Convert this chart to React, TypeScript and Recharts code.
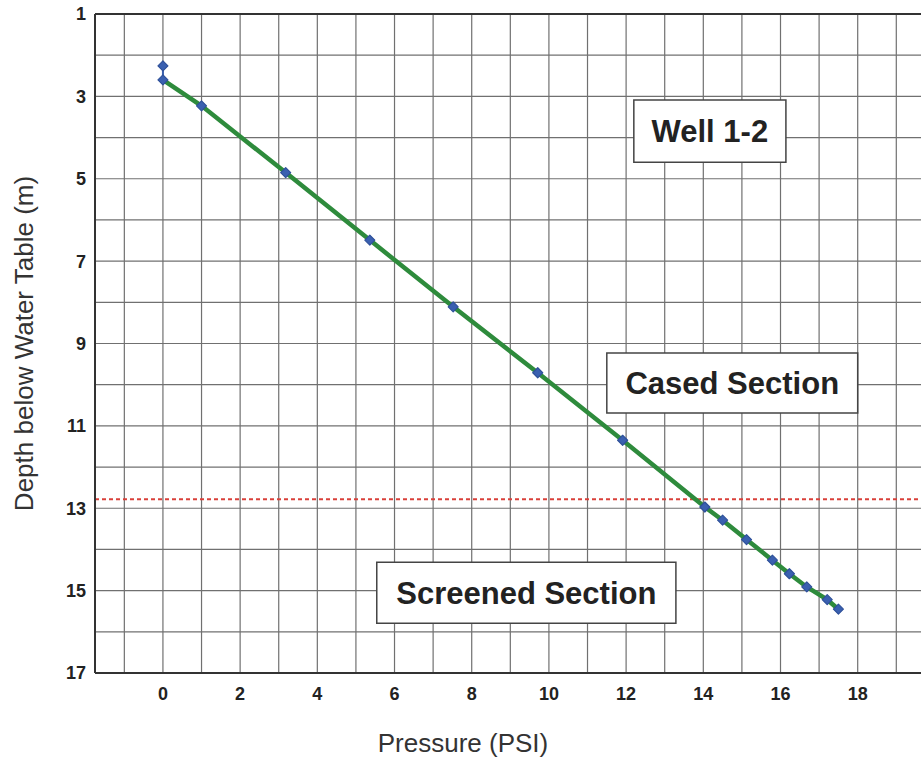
import React from 'react';
import {
  ScatterChart,
  Scatter,
  XAxis,
  YAxis,
  CartesianGrid,
  ReferenceLine,
  ReferenceArea,
} from 'recharts';

// Measured pressure (PSI) vs depth below water table (m), Well 1-2
const pressure = [0, 0, 1.0, 3.18, 5.36, 7.52, 9.71, 11.91, 14.04, 14.5, 15.12, 15.79, 16.23, 16.68, 17.21, 17.5];
const depth = [2.26, 2.6, 3.23, 4.85, 6.49, 8.11, 9.71, 11.35, 12.97, 13.29, 13.76, 14.26, 14.59, 14.91, 15.22, 15.45];

// Boundary between cased and screened sections (m)
const sectionBoundaryDepth = 12.78;

// Axis ticks and grid values
const xTicks = [0, 2, 4, 6, 8, 10, 12, 14, 16, 18];
const yTicks = [1, 3, 5, 7, 9, 11, 13, 15, 17];
const gridX = [-1, 0, 1, 2, 3, 4, 5, 6, 7, 8, 9, 10, 11, 12, 13, 14, 15, 16, 17, 18, 19];
const gridY = [1, 2, 3, 4, 5, 6, 7, 8, 9, 10, 11, 12, 13, 14, 15, 16, 17];

// Annotation labels
const annotationLabels = ['Well 1-2', 'Cased Section', 'Screened Section'];

const measured = pressure.map((p, i) => ({ p, d: depth[i] }));
const firstReadings = measured.slice(0, 2);
const profile = measured.slice(1);

// annotation box extents in data units (layout)
const boxes = [
  { x1: 12.2, x2: 16.14, y1: 3.09, y2: 4.6 },
  { x1: 11.5, x2: 18.0, y1: 9.23, y2: 10.69 },
  { x1: 5.54, x2: 13.29, y1: 14.31, y2: 15.79 },
];

const BLUE = '#3a60b0';
const GREEN = '#2e8b3c';
const FONT = "'Liberation Sans', Arial, sans-serif";
const TICK_FONT = "'Liberation Sans Narrow', 'Liberation Sans', Arial, sans-serif";

const Diamond = (props: any) => {
  const { cx, cy } = props;
  if (cx == null || cy == null) return <g />;
  const r = 5;
  return (
    <path
      d={`M${cx},${cy - r}L${cx + r},${cy}L${cx},${cy + r}L${cx - r},${cy}Z`}
      fill={BLUE}
      stroke="#2f519a"
      strokeWidth={1.2}
      strokeLinejoin="round"
    />
  );
};

const Empty = () => <g />;

const XTitle = (props: any) => {
  const vb = props.viewBox || { x: 95, y: 673, width: 826, height: 93 };
  return (
    <text x={vb.x + vb.width / 2 - 45} y={vb.y + 79} textAnchor="middle" fontSize={26} fill="#333" fontFamily={FONT}>
      Pressure (PSI)
    </text>
  );
};

const YTitle = (props: any) => {
  const vb = props.viewBox || { x: 0, y: 14, width: 95, height: 659 };
  const cx = vb.x + 33;
  const cy = vb.y + vb.height / 2;
  return (
    <text x={cx} y={cy} transform={`rotate(-90, ${cx}, ${cy})`} textAnchor="middle" fontSize={26} fill="#333" fontFamily={FONT}>
      Depth below Water Table (m)
    </text>
  );
};

export default function App() {
  return (
    <div style={{ position: 'absolute', left: 0, top: 0, width: 921, height: 766, background: '#fff' }}>
      <ScatterChart width={921} height={766} margin={{ top: 14, right: 0, bottom: 0, left: 0 }} style={{ fontFamily: FONT }}>
        <CartesianGrid
          verticalValues={gridX}
          horizontalValues={gridY}
          stroke="#707070"
          strokeWidth={1.2}
        />
        <XAxis
          type="number"
          dataKey="p"
          domain={[-1.76, 19.64]}
          ticks={xTicks}
          allowDataOverflow
          height={93}
          tickSize={0}
          tickMargin={14}
          axisLine={{ stroke: '#333', strokeWidth: 2 }}
          tick={{ fontSize: 18, fontWeight: 700, fill: '#222', fontFamily: TICK_FONT }}
          label={{ content: (p: any) => <XTitle {...p} /> }}
        />
        <YAxis
          type="number"
          dataKey="d"
          domain={[1, 17]}
          reversed
          ticks={yTicks}
          allowDataOverflow
          width={95}
          tickSize={0}
          tickMargin={9}
          axisLine={{ stroke: '#333', strokeWidth: 2 }}
          tick={{ fontSize: 18, fontWeight: 700, fill: '#222', fontFamily: TICK_FONT }}
          label={{ content: (p: any) => <YTitle {...p} /> }}
        />
        <ReferenceLine y={1} stroke="#333" strokeWidth={2} />
        <ReferenceLine
          y={sectionBoundaryDepth}
          stroke="#d9403a"
          strokeWidth={2}
          strokeDasharray="4 3"
        />
        {annotationLabels.map((text, i) => (
          <ReferenceArea
            key={text}
            x1={boxes[i].x1}
            x2={boxes[i].x2}
            y1={boxes[i].y1}
            y2={boxes[i].y2}
            fill="#fff"
            fillOpacity={1}
            stroke="#444"
            strokeWidth={1.5}
            label={{ value: text, position: 'center', fontSize: 31, fontWeight: 700, fill: '#222', fontFamily: FONT }}
          />
        ))}
        <Scatter
          data={firstReadings}
          fill={BLUE}
          line={{ stroke: BLUE, strokeWidth: 2 }}
          lineType="joint"
          shape={Empty}
          isAnimationActive={false}
        />
        <Scatter
          data={profile}
          fill={GREEN}
          line={{ stroke: GREEN, strokeWidth: 4.5 }}
          lineType="joint"
          shape={Empty}
          isAnimationActive={false}
        />
        <Scatter data={measured} fill={BLUE} shape={Diamond} isAnimationActive={false} />
      </ScatterChart>
    </div>
  );
}
